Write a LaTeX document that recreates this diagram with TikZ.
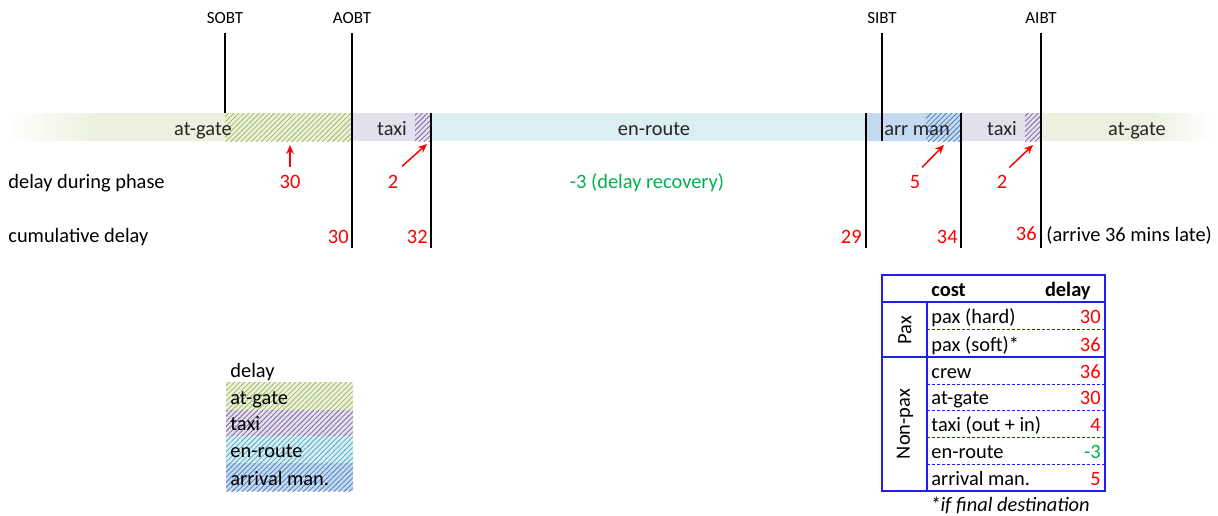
\documentclass[tikz,border=0pt]{standalone}
\usepackage{fontspec}
\setmainfont{Carlito}
\usetikzlibrary{positioning, arrows.meta, patterns.meta}

\definecolor{gatefill}{HTML}{EBF1DE}
\definecolor{gatehatch}{HTML}{9BBB59}
\definecolor{taxifill}{HTML}{E4DFEC}
\definecolor{taxihatch}{HTML}{8064A2}
\definecolor{routefill}{HTML}{DAEEF3}
\definecolor{routehatch}{HTML}{4BACC6}
\definecolor{arrfill}{HTML}{C5D9F1}
\definecolor{arrhatch}{HTML}{4F81BD}
\definecolor{delayred}{HTML}{FF0000}
\definecolor{recovgreen}{HTML}{00B050}
\definecolor{tabblue}{HTML}{1F1FF0}

\begin{document}
\begin{tikzpicture}[
    x=0.5pt, y=-0.5pt,
    font=\fontsize{10.2}{12}\selectfont,
    txt/.style={inner sep=0pt, anchor=base west},
    txtr/.style={inner sep=0pt, anchor=base east},
    phase/.style={inner sep=0pt, anchor=base, text=black!85},
    num/.style={inner sep=0pt, anchor=base, text=delayred},
    numr/.style={inner sep=0pt, anchor=base east, text=delayred},
    milestone/.style={anchor=south, inner xsep=0pt, inner ysep=4.5pt,
                      font=\fontsize{8.5}{10}\selectfont},
    mline/.style={line width=1.4pt},
    redarrow/.style={-{Stealth[length=4.5pt, width=3.8pt]}, draw=delayred, line width=0.75pt},
    hatch/.style={pattern={Lines[angle=45, distance=1.8pt, line width=0.4pt]}, pattern color=#1},
    tabline/.style={draw=tabblue, line width=0.7pt},
    tabdash/.style={draw=tabblue, line width=0.5pt, dash pattern=on 1.5pt off 1pt}
]
\useasboundingbox (0,0) rectangle (1218,515);

% --- Phase bar ---
% fade in / fade out of the at-gate ends
\foreach \i in {0,...,39}{
  \pgfmathsetmacro{\pct}{2.5*\i+2.5}
  \fill[gatefill!\pct!white] (8+2.3*\i,113) rectangle (11+2.3*\i,141);
}
\fill[gatefill] (100,113) rectangle (351,141);
\path[hatch=gatehatch] (225,113) rectangle (351,141);
\fill[taxifill] (351,113) rectangle (431,141);
\path[hatch=taxihatch] (415,113) rectangle (431,141);
\fill[routefill] (431,113) rectangle (866,141);
\fill[arrfill] (866,113) rectangle (961,141);
\path[hatch=arrhatch] (926,113) rectangle (961,141);
\fill[taxifill] (961,113) rectangle (1041,141);
\path[hatch=taxihatch] (1025,113) rectangle (1041,141);
\fill[gatefill] (1041,113) rectangle (1151,141);
\foreach \i in {0,...,29}{
  \pgfmathsetmacro{\pct}{100-3.3*\i}
  \fill[gatefill!\pct!white] (1150+2*\i,113) rectangle (1152.5+2*\i,141);
}

\node[phase] (gateout) at (203,135) {at-gate};
\node[phase] (taxiout) at (392,135) {taxi};
\node[phase] (enroute) at (654,135) {en-route};
\node[phase] (arrman) at (917,135) {arr man};
\node[phase] (taxiin) at (1002,135) {taxi};
\node[phase] (gatein) at (1137,135) {at-gate};

% --- Milestones ---
\node[milestone] (sobt) at (225,33) {SOBT};
\node[milestone] (aobt) at (352,33) {AOBT};
\node[milestone] (sibt) at (882,33) {SIBT};
\node[milestone] (aibt) at (1041,33) {AIBT};

\coordinate (sobtend) at (225,113);
\coordinate (aobtend) at (352,248);
\coordinate (sibtend) at (882,141);
\coordinate (aibtend) at (1041,248);
\coordinate (taxitop) at (431,113);
\coordinate (taxiend) at (431,248);
\coordinate (routetop) at (866,113);
\coordinate (routeend) at (866,248);
\coordinate (arrtop) at (961,113);
\coordinate (arrend) at (961,248);

\draw[mline] (sobt.south) -- (sobtend);
\draw[mline] (aobt.south) -- (aobtend);
\draw[mline] (sibt.south) -- (sibtend);
\draw[mline] (aibt.south) -- (aibtend);
\draw[mline] (taxitop) -- (taxiend);
\draw[mline] (routetop) -- (routeend);
\draw[mline] (arrtop) -- (arrend);

% --- Delay during phase ---
\node[txt] (phaserow) at (8,188) {delay during phase};
\node[num] (gatedelay) at (290,188) {30};
\node[num] (taxioutdelay) at (393,188) {2};
\node[phase, text=recovgreen] (routedelay) at (647,188) {-3 (delay recovery)};
\node[num] (arrdelay) at (915,188) {5};
\node[num] (taxiindelay) at (1002,188) {2};

\coordinate (gatetip) at (290,145);
\coordinate (taxiouttip) at (427,144);
\coordinate (arrtip) at (944,145);
\coordinate (taxiintip) at (1033,145);

\draw[redarrow, shorten <=3.5pt] (gatedelay.north) -- (gatetip);
\draw[redarrow, shorten <=6pt] (taxioutdelay.north) -- (taxiouttip);
\draw[redarrow, shorten <=5pt] (arrdelay.north) -- (arrtip);
\draw[redarrow, shorten <=5pt] (taxiindelay.north) -- (taxiintip);

% --- Cumulative delay ---
\node[txt] (cumrow) at (8,242) {cumulative delay};
\node[numr] (cumaobt) at (349,243) {30};
\node[numr] (cumtaxi) at (428,243) {32};
\node[numr] (cumroute) at (862,243) {29};
\node[numr] (cumarr) at (958,243) {34};
\node[numr] (cumaibt) at (1037,240) {36};
\node[txt] (arrivenote) at (1046,241) {(arrive 36 mins late)};

% --- Legend ---
\node[txt] (legtitle) at (230,377) {delay};
\fill[gatefill] (226,382) rectangle (353,410);
\path[hatch=gatehatch] (226,382) rectangle (353,410);
\fill[taxifill] (226,410) rectangle (353,436);
\path[hatch=taxihatch] (226,410) rectangle (353,436);
\fill[routefill] (226,436) rectangle (353,463);
\path[hatch=routehatch] (226,436) rectangle (353,463);
\fill[arrfill] (226,463) rectangle (353,491);
\path[hatch=arrhatch] (226,463) rectangle (353,491);
\node[txt] (leggate) at (230,404) {at-gate};
\node[txt] (legtaxi) at (230,430) {taxi};
\node[txt] (legroute) at (230,457) {en-route};
\node[txt] (legarr) at (230,485) {arrival man.};

% --- Cost table ---
\draw[tabline] (882,275) rectangle (1105,491);
\draw[tabline] (882,302) -- (1105,302);
\draw[tabline] (882,357) -- (1105,357);
\draw[tabline] (927,302) -- (927,491);
\draw[tabdash] (927,329) -- (1105,329);
\draw[tabdash] (927,384) -- (1105,384);
\draw[tabdash] (927,410) -- (1105,410);
\draw[tabdash] (927,437) -- (1105,437);
\draw[tabdash] (927,464) -- (1105,464);

\node[txt, font=\fontsize{10.2}{12}\selectfont\bfseries] (costhead) at (931,296) {cost};
\node[txtr, font=\fontsize{10.2}{12}\selectfont\bfseries] (delayhead) at (1091,296) {delay};
\node[rotate=90, inner sep=0pt] (paxgroup) at (905,330) {Pax};
\node[rotate=90, inner sep=0pt] (nonpaxgroup) at (905,424) {Non-pax};

\node[txt] (paxhard) at (931,323) {pax (hard)};
\node[txt] (paxsoft) at (931,351) {pax (soft)*};
\node[txt] (crew) at (931,378) {crew};
\node[txt] (costgate) at (931,404) {at-gate};
\node[txt] (costtaxi) at (931,431) {taxi (out + in)};
\node[txt] (costroute) at (931,458) {en-route};
\node[txt] (costarr) at (931,485) {arrival man.};

\node[numr] (paxhardval) at (1101,323) {30};
\node[numr] (paxsoftval) at (1101,351) {36};
\node[numr] (crewval) at (1101,378) {36};
\node[numr] (gateval) at (1101,404) {30};
\node[numr] (taxival) at (1101,431) {4};
\node[numr, text=recovgreen] (routeval) at (1101,458) {-3};
\node[numr] (arrval) at (1101,485) {5};

\node[inner sep=0pt, anchor=base, font=\fontsize{10.2}{12}\selectfont\itshape] (footnote) at (1010,511) {*if final destination};
\end{tikzpicture}
\end{document}
